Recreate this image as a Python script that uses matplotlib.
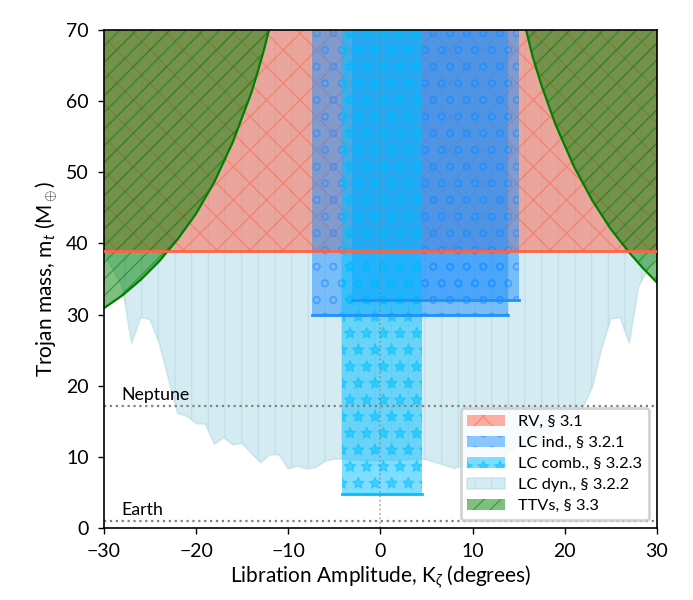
import numpy as np
import matplotlib
matplotlib.use('Agg')
import matplotlib.pyplot as plt

#%% fonts / global style (figure is drawn at dpi=200, so sizes are in half points)
plt.rcParams['font.family'] = ['Lato', 'DejaVu Sans']
plt.rcParams['mathtext.fontset'] = 'custom'
plt.rcParams['mathtext.rm'] = 'Lato'
plt.rcParams['mathtext.it'] = 'Lato:italic'
plt.rcParams['hatch.linewidth'] = 0.5

#%% data
m_top = 70.0                    # upper end of the mass axis
rv_mass = 39.0                  # RV limit

ind_lo = [-7.4, -3.1]           # LC individual: amplitude ranges + lower mass
ind_hi = [13.8, 15.0]
ind_mass = [30.0, 32.0]

comb_lo = -4.2                  # LC combined
comb_hi = 4.5
comb_mass = 4.8

dyn_amp = np.arange(-30, 31)    # LC dynamical lower envelope
dyn_mass = [38.5, 36.3, 33.9, 26.0, 29.6, 29.3, 26.0, 21.0, 16.1, 15.7,
            14.7, 14.6, 11.8, 12.7, 11.7, 11.9, 10.5, 9.2, 10.3, 10.3,
            8.3, 8.7, 8.3, 8.5, 9.4, 9.7, 9.7, 9.6, 9.5, 9.5,
            9.5, 9.5, 9.5, 9.6, 9.7, 9.6, 9.2, 8.8, 8.4, 8.7,
            8.3, 10.3, 10.3, 9.2, 10.5, 11.9, 11.7, 12.7, 11.8, 14.6,
            14.7, 15.7, 17.0, 19.8, 25.2, 29.4, 29.6, 26.0, 33.9, 36.3,
            38.5]

ttv_left_amp = [-30, -28, -26, -24, -22, -20, -18, -16, -14, -13.3, -12.6, -12.1]
ttv_left_mass = [30.9, 32.7, 34.9, 37.5, 40.6, 44.2, 48.7, 54.3, 61.2, 64.2, 67.4, 70.0]
ttv_right_amp = [15.8, 16.5, 17.5, 19, 21, 23, 25, 27, 28.5, 30]
ttv_right_mass = [70.0, 66.3, 62.1, 56.7, 50.8, 46.0, 42.0, 38.7, 36.5, 34.5]

neptune = 17.15
earth = 1.0

#%% plot
fig, ax = plt.subplots(figsize=(3.465, 3.0), dpi=200)
fig.subplots_adjust(left=0.150, right=0.948, bottom=0.12, top=0.95)

dyn = ax.fill_between(dyn_amp, dyn_mass, m_top, facecolor='lightblue', edgecolor='lightblue',
                      alpha=0.5, hatch='||', lw=0.6)

rv = ax.fill_between([-30, 30], rv_mass, m_top, facecolor='tomato', edgecolor='tomato',
                     alpha=0.5, hatch='xx', lw=0)

for lo, hi, mm in zip(ind_lo, ind_hi, ind_mass):
    ind = ax.fill_between([lo, hi], mm, m_top, facecolor='dodgerblue', edgecolor='dodgerblue',
                          alpha=0.5, hatch='oo', lw=0)
    ax.plot([lo, hi], [mm, mm], color='dodgerblue', lw=1.0)

comb = ax.fill_between([comb_lo, comb_hi], comb_mass, m_top, facecolor='deepskyblue',
                       edgecolor='deepskyblue', alpha=0.5, hatch='**', lw=0)
ax.plot([comb_lo, comb_hi], [comb_mass, comb_mass], color='deepskyblue', lw=1.0)

ttv = ax.fill_between(ttv_left_amp, ttv_left_mass, m_top, facecolor='green', edgecolor='green',
                      alpha=0.5, hatch='////', lw=0)
ax.fill_between(ttv_right_amp, ttv_right_mass, m_top, facecolor='green', edgecolor='green',
                alpha=0.5, hatch='////', lw=0)
ax.plot(ttv_left_amp, ttv_left_mass, color='green', lw=0.8)
ax.plot(ttv_right_amp, ttv_right_mass, color='green', lw=0.8)

ax.axhline(rv_mass, color='tomato', lw=1.0, zorder=4)

# reference masses
ax.axhline(neptune, color='gray', ls=':', lw=0.8)
ax.axhline(earth, color='gray', ls=':', lw=0.8)
ax.axvline(0, color='gray', ls=':', lw=0.6, alpha=0.7)
ax.text(-28.1, neptune + 0.8, 'Neptune', fontsize=6.4)
ax.text(-28.1, earth + 0.8, 'Earth', fontsize=6.4)

ax.set_xlim(-30, 30)
ax.set_ylim(0, 70)
ax.set_xticks(np.arange(-30, 31, 10))
ax.set_yticks(np.arange(0, 71, 10))
ax.tick_params(direction='out', length=2.0, width=0.5, labelsize=7)
for sp in ax.spines.values():
    sp.set_linewidth(0.6)

ax.set_xlabel(r'Libration Amplitude, K$_\zeta$ (degrees)', fontsize=7.5, labelpad=1)
ax.set_ylabel(r'Trojan mass, m$_t$ (M$_\oplus$)', fontsize=7.5, labelpad=2)

ax.legend([rv, ind, comb, dyn, ttv],
          ['RV, § 3.1', 'LC ind., § 3.2.1', 'LC comb., § 3.2.3', 'LC dyn., § 3.2.2', 'TTVs, § 3.3'],
          loc='lower right', fontsize=5.9, handlelength=2.3, labelspacing=0.4, framealpha=0.85)

fig.savefig('out.png', dpi=200)
